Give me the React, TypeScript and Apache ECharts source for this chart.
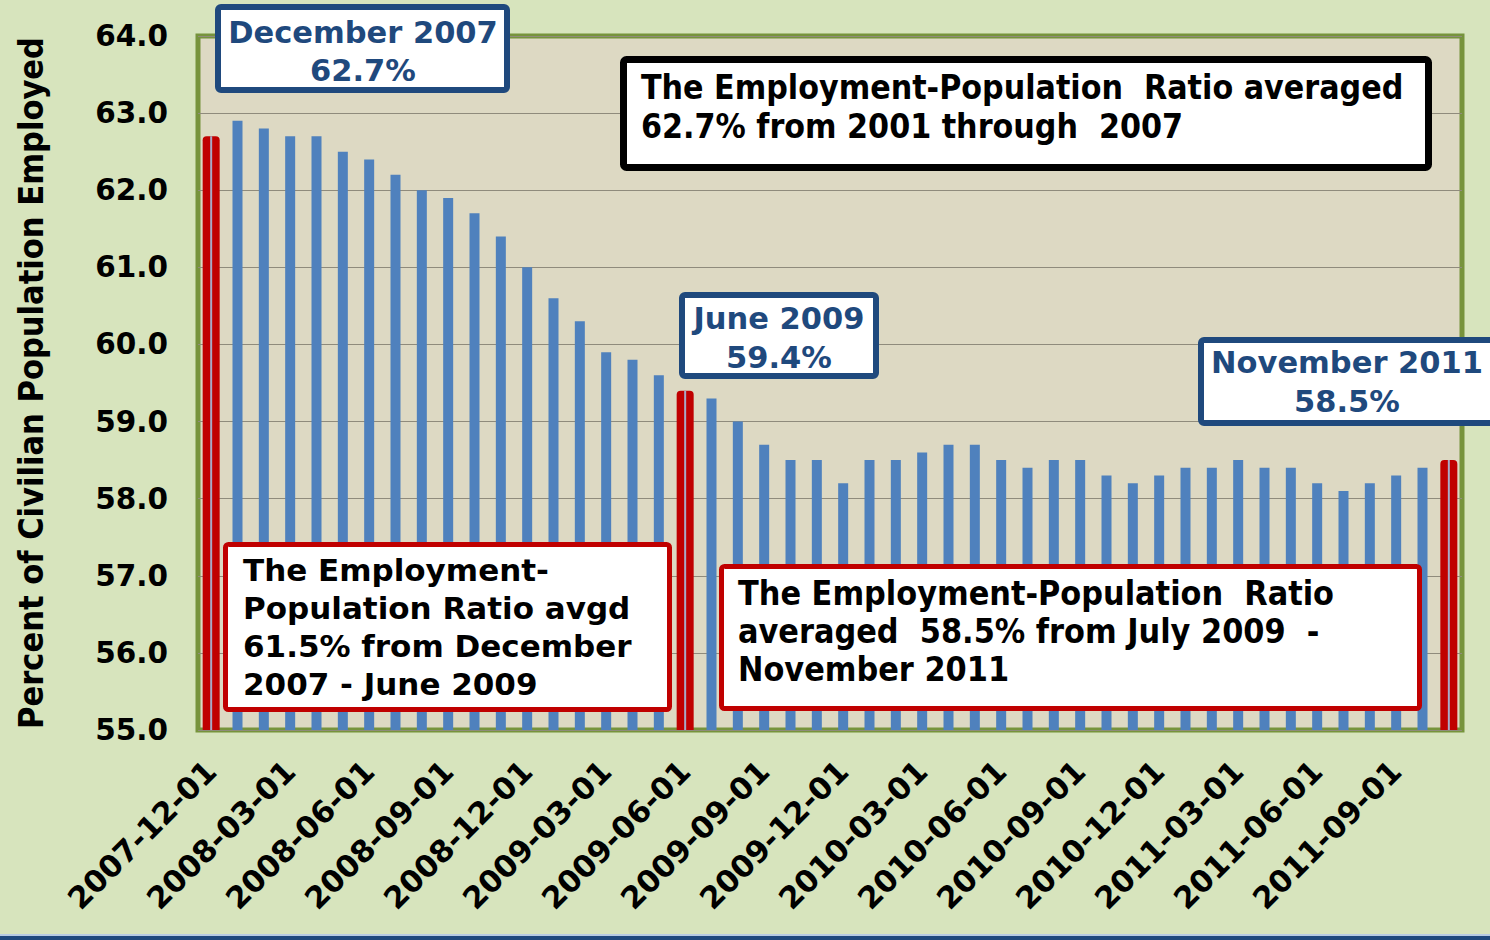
import React, { useEffect, useRef } from "react";
import * as echarts from "echarts";

const categories = [
  "2007-12-01", "2008-01-01", "2008-02-01", "2008-03-01", "2008-04-01", "2008-05-01",
  "2008-06-01", "2008-07-01", "2008-08-01", "2008-09-01", "2008-10-01", "2008-11-01",
  "2008-12-01", "2009-01-01", "2009-02-01", "2009-03-01", "2009-04-01", "2009-05-01",
  "2009-06-01", "2009-07-01", "2009-08-01", "2009-09-01", "2009-10-01", "2009-11-01",
  "2009-12-01", "2010-01-01", "2010-02-01", "2010-03-01", "2010-04-01", "2010-05-01",
  "2010-06-01", "2010-07-01", "2010-08-01", "2010-09-01", "2010-10-01", "2010-11-01",
  "2010-12-01", "2011-01-01", "2011-02-01", "2011-03-01", "2011-04-01", "2011-05-01",
  "2011-06-01", "2011-07-01", "2011-08-01", "2011-09-01", "2011-10-01", "2011-11-01",
];

const ratioValues = [
  62.7, 62.9, 62.8, 62.7, 62.7, 62.5, 62.4, 62.2, 62.0, 61.9, 61.7, 61.4,
  61.0, 60.6, 60.3, 59.9, 59.8, 59.6, 59.4, 59.3, 59.0, 58.7, 58.5, 58.5,
  58.2, 58.5, 58.5, 58.6, 58.7, 58.7, 58.5, 58.4, 58.5, 58.5, 58.3, 58.2,
  58.3, 58.4, 58.4, 58.5, 58.4, 58.4, 58.2, 58.1, 58.2, 58.3, 58.4, 58.5,
];

const highlighted = ["2007-12-01", "2009-06-01", "2011-11-01"];

const yTicks = { min: 55, max: 64, interval: 1 };

const WIDE = '"DejaVu Sans", Verdana, sans-serif';
const NARROW = '"DejaVu Sans Condensed", "DejaVu Sans", sans-serif';

const BLUE_DARK = "#1F497D";
const RED = "#C00000";

function box(x: number, y: number, w: number, h: number, stroke: string, lw: number) {
  return {
    type: "rect",
    shape: { x: x + lw / 2, y: y + lw / 2, width: w - lw, height: h - lw, r: 3 },
    style: { fill: "#FFFFFF", stroke, lineWidth: lw },
    z: 100,
  };
}

function line(
  text: string, x: number, y: number, size: number, family: string,
  fill: string, align: string
) {
  return {
    type: "text",
    x, y,
    style: {
      text,
      fill,
      fontSize: size,
      fontFamily: family,
      fontWeight: "bold",
      align,
      verticalAlign: "middle",
    },
    z: 101,
  };
}

export default function App() {
  const ref = useRef<HTMLDivElement>(null);

  useEffect(() => {
    if (!ref.current) return;
    const chart = echarts.init(ref.current, undefined, { renderer: "svg" });

    const blueData = ratioValues.map((v, i) =>
      highlighted.includes(categories[i]) ? "-" : v
    );
    const redData = ratioValues.map((v, i) =>
      highlighted.includes(categories[i]) ? v : "-"
    );

    const hiddenAxis = (idx: number) => ({
      type: "category",
      data: categories,
      boundaryGap: true,
      show: false,
      gridIndex: 0,
    });

    const graphic: any[] = [
      // bottom band
      { type: "rect", shape: { x: 0, y: 934, width: 1490, height: 2 }, style: { fill: "#B7CBE3" }, z: 5 },
      { type: "rect", shape: { x: 0, y: 936, width: 1490, height: 4 }, style: { fill: BLUE_DARK }, z: 5 },

      // December 2007
      box(215, 4, 295, 89, BLUE_DARK, 6),
      line("December 2007", 363, 32, 30.5, WIDE, BLUE_DARK, "center"),
      line("62.7%", 363, 70, 30.5, WIDE, BLUE_DARK, "center"),

      // Black average box
      box(620, 56, 812, 115, "#000000", 7),
      line("The Employment-Population  Ratio averaged", 641, 87, 33.6, NARROW, "#000000", "left"),
      line("62.7% from 2001 through  2007", 641, 126, 33.6, NARROW, "#000000", "left"),

      // June 2009
      box(679, 292, 200, 87, BLUE_DARK, 6),
      line("June 2009", 779, 318, 30.5, WIDE, BLUE_DARK, "center"),
      line("59.4%", 779, 357, 30.5, WIDE, BLUE_DARK, "center"),

      // November 2011
      box(1198, 337, 302, 89, BLUE_DARK, 6),
      line("November 2011", 1347, 362, 30.5, WIDE, BLUE_DARK, "center"),
      line("58.5%", 1347, 401, 30.5, WIDE, BLUE_DARK, "center"),

      // Red box 1
      box(223, 542, 449, 170, RED, 5),
      line("The Employment-", 243, 570, 31, WIDE, "#000000", "left"),
      line("Population Ratio avgd", 243, 608, 31, WIDE, "#000000", "left"),
      line("61.5% from December", 243, 646, 31, WIDE, "#000000", "left"),
      line("2007 - June 2009", 243, 684, 31, WIDE, "#000000", "left"),

      // Red box 2
      box(719, 564, 703, 147, RED, 5),
      line("The Employment-Population  Ratio", 738, 593, 33.8, NARROW, "#000000", "left"),
      line("averaged  58.5% from July 2009  -", 738, 631, 33.8, NARROW, "#000000", "left"),
      line("November 2011", 738, 669, 33.8, NARROW, "#000000", "left"),
    ];

    chart.setOption({
      animation: false,
      backgroundColor: "#D7E4BD",
      grid: {
        left: 198,
        right: 28,
        top: 36,
        bottom: 210,
        show: true,
        backgroundColor: "#DDD9C3",
        borderColor: "#77933C",
        borderWidth: 5,
        containLabel: false,
      },
      xAxis: [
        {
          type: "category",
          data: categories,
          boundaryGap: true,
          axisLine: { show: false },
          axisTick: { show: false },
          axisLabel: {
            interval: 2,
            rotate: 45,
            margin: 36,
            color: "#000000",
            fontFamily: WIDE,
            fontWeight: "bold",
            fontSize: 30.5,
          },
        },
        hiddenAxis(1),
        hiddenAxis(2),
      ],
      yAxis: {
        type: "value",
        min: yTicks.min,
        max: yTicks.max,
        interval: yTicks.interval,
        name: "Percent of Civilian Population Employed",
        nameLocation: "middle",
        nameGap: 150,
        nameRotate: 90,
        nameTextStyle: {
          color: "#000000",
          fontFamily: NARROW,
          fontWeight: "bold",
          fontSize: 34,
        },
        axisLine: { show: false },
        axisTick: { show: false },
        splitLine: { show: true, lineStyle: { color: "#8F8B7C", width: 1 } },
        axisLabel: {
          margin: 30,
          color: "#000000",
          fontFamily: WIDE,
          fontWeight: "bold",
          fontSize: 29.5,
          formatter: (v: number) => v.toFixed(1),
        },
      },
      series: [
        {
          type: "bar",
          xAxisIndex: 0,
          data: blueData,
          barWidth: 10,
          itemStyle: { color: "#4F81BD" },
          z: 2,
        },
        {
          type: "bar",
          xAxisIndex: 1,
          data: redData,
          barWidth: 17,
          itemStyle: { color: RED, borderRadius: [4, 4, 0, 0] },
          z: 3,
        },
        {
          type: "bar",
          xAxisIndex: 2,
          data: redData,
          barWidth: 2,
          itemStyle: { color: "#A7A9C6" },
          z: 4,
        },
      ],
      graphic,
    });

    return () => chart.dispose();
  }, []);

  return (
    <div
      ref={ref}
      style={{ position: "absolute", left: 0, top: 0, width: 1490, height: 940 }}
    />
  );
}
